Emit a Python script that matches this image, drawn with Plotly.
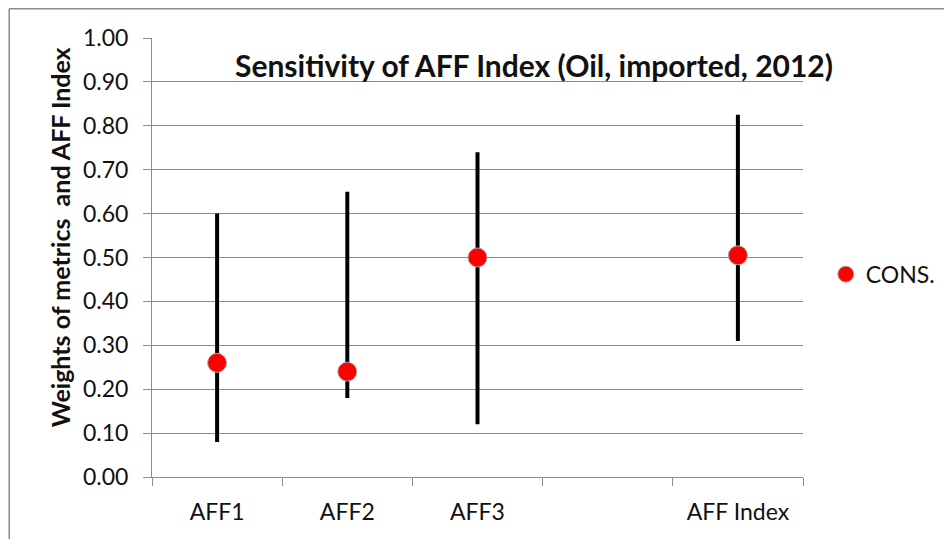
import plotly.graph_objects as go

# categories on the x axis (4th slot is empty in the original chart)
categories = ["AFF1", "AFF2", "AFF3", " ", "AFF Index"]

# consensus value and sensitivity range per item
items = ["AFF1", "AFF2", "AFF3", "AFF Index"]
cons_values = [0.26, 0.24, 0.50, 0.505]
range_low = [0.08, 0.18, 0.12, 0.31]
range_high = [0.60, 0.65, 0.74, 0.825]

y_ticks = [0.0, 0.1, 0.2, 0.3, 0.4, 0.5, 0.6, 0.7, 0.8, 0.9, 1.0]

FONT = "Lato"
GRID = "#8c8c8c"
TEXT = "#111111"

# the page body has an 8px margin, so the figure is 8px smaller each way
W, H = 944, 531
ML, MT, PW, PH = 144, 30, 653, 439

err_plus = [h - v for h, v in zip(range_high, cons_values)]
err_minus = [v - l for v, l in zip(cons_values, range_low)]

fig = go.Figure()
fig.add_trace(go.Scatter(
    x=items,
    y=cons_values,
    mode="markers",
    name="CONS.",
    marker=dict(color="#ff0000", size=19, line=dict(color="#a6a6a6", width=1)),
    error_y=dict(
        type="data",
        symmetric=False,
        array=err_plus,
        arrayminus=err_minus,
        color="#000000",
        thickness=4,
        width=0,
    ),
))

fig.update_layout(
    width=W,
    height=H,
    margin=dict(l=ML, r=W - ML - PW, t=MT, b=H - MT - PH),
    paper_bgcolor="white",
    plot_bgcolor="white",
    font=dict(family=FONT, size=23, color=TEXT),
    title=dict(
        text="<b>Sensitivity of AFF Index (Oil, imported, 2012)</b>",
        x=(534 - 8) / W,
        y=1 - (66 - 8) / H,
        xanchor="center",
        yanchor="middle",
        font=dict(family=FONT, size=30, color=TEXT),
    ),
    xaxis=dict(
        type="category",
        categoryorder="array",
        categoryarray=categories,
        range=[-0.5, 4.5],
        showgrid=False,
        showline=True,
        linecolor=GRID,
        linewidth=1,
        ticks="outside",
        tickson="boundaries",
        ticklen=8,
        tickcolor=GRID,
        tickfont=dict(family=FONT, size=23, color=TEXT),
        ticklabelstandoff=14,
    ),
    yaxis=dict(
        range=[0, 1.0],
        tickvals=y_ticks,
        tickformat=".2f",
        showgrid=True,
        gridcolor=GRID,
        gridwidth=1,
        zeroline=False,
        showline=True,
        linecolor=GRID,
        linewidth=1,
        ticks="outside",
        ticklen=8,
        tickcolor=GRID,
        tickfont=dict(family=FONT, size=23, color=TEXT),
        ticklabelstandoff=10,
    ),
    legend=dict(
        x=1.035,
        y=0.462,
        xanchor="left",
        yanchor="middle",
        font=dict(family=FONT, size=23, color=TEXT),
        bgcolor="rgba(0,0,0,0)",
    ),
    showlegend=True,
)

# rotated y-axis title, placed as in the original
fig.add_annotation(
    text="<b>Weights of metrics  and AFF Index</b>",
    xref="paper", yref="paper",
    x=(60 - 152) / PW, y=(477 - 237) / PH,
    xanchor="center", yanchor="middle",
    textangle=-90,
    showarrow=False,
    font=dict(family=FONT, size=25, color=TEXT),
)

# outer chart-area border (only top and left edges are visible in the frame)
border_x = -(ML - 0.75) / PW
border_y = 1 + (MT - 0.75) / PH
fig.add_shape(type="line", xref="paper", yref="paper",
              x0=border_x, x1=1.3, y0=border_y, y1=border_y,
              line=dict(color="#8c8c8c", width=1.5), layer="above")
fig.add_shape(type="line", xref="paper", yref="paper",
              x0=border_x, x1=border_x, y0=border_y, y1=-0.2,
              line=dict(color="#8c8c8c", width=1.5), layer="above")

fig.write_html("out.html")
